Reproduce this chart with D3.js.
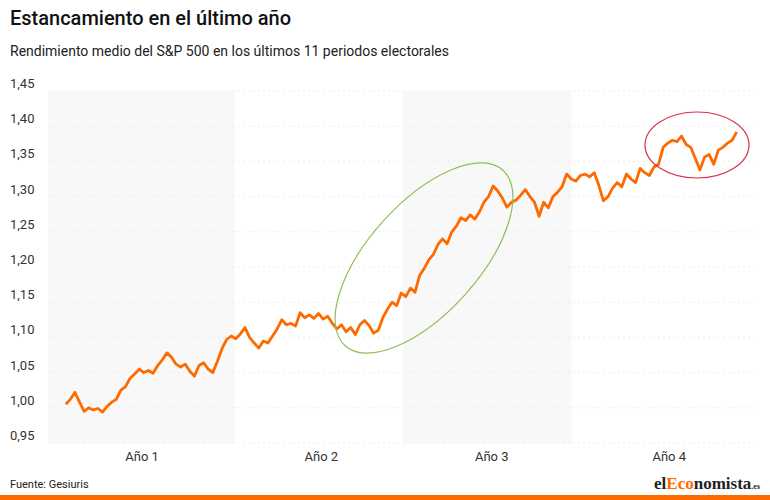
<!DOCTYPE html>
<html><head><meta charset="utf-8">
<script src="https://cdn.jsdelivr.net/npm/d3@7"></script>
<style>body{margin:0;background:#fff;font-family:Roboto,sans-serif}</style>
</head><body><svg id="c" width="770" height="500"></svg>
<script>
const yTicks=[0.95,1.00,1.05,1.10,1.15,1.20,1.25,1.30,1.35,1.40,1.45];
const years=["Año 1","Año 2","Año 3","Año 4"];
const yearBounds=[0,1.05,2.0,2.95,4];
const yearCenters=[0.53,1.54,2.5,3.5];
// average S&P 500 performance, sampled evenly from start (0.1) to end (3.88)
const values=[1.005,1.012,1.022,1.008,0.995,1.000,0.997,0.999,0.994,1.002,1.008,1.012,1.025,1.030,1.042,1.048,1.055,1.050,1.053,1.049,1.060,1.068,1.078,1.072,1.062,1.058,1.062,1.052,1.045,1.060,1.064,1.055,1.050,1.066,1.084,1.097,1.102,1.098,1.105,1.114,1.100,1.092,1.085,1.095,1.092,1.102,1.112,1.125,1.118,1.120,1.116,1.135,1.128,1.132,1.127,1.134,1.126,1.130,1.120,1.112,1.118,1.108,1.114,1.104,1.118,1.124,1.117,1.106,1.110,1.128,1.140,1.150,1.145,1.163,1.158,1.170,1.164,1.188,1.198,1.210,1.218,1.232,1.240,1.233,1.250,1.258,1.270,1.266,1.274,1.268,1.278,1.292,1.300,1.315,1.308,1.298,1.285,1.292,1.295,1.302,1.310,1.300,1.292,1.272,1.292,1.284,1.300,1.306,1.314,1.332,1.325,1.322,1.330,1.332,1.328,1.334,1.316,1.294,1.300,1.312,1.320,1.314,1.332,1.325,1.320,1.340,1.334,1.330,1.342,1.346,1.370,1.376,1.380,1.378,1.386,1.374,1.370,1.354,1.338,1.356,1.360,1.346,1.366,1.370,1.376,1.380,1.392];
const svg=d3.select("#c");
const x=d3.scaleLinear().domain([0,4]).range([48,758]);
const y=d3.scaleLinear().domain([0.95,1.45]).range([443,91]);
const xi=d3.scaleLinear().domain([0,values.length-1]).range([0.1,3.88]);
svg.selectAll("rect.band").data([0,2]).enter().append("rect")
 .attr("x",i=>x(yearBounds[i])).attr("width",i=>x(yearBounds[i+1])-x(yearBounds[i]))
 .attr("y",y(1.45)).attr("height",y(0.95)-y(1.45)).attr("fill","#f8f8f8");
svg.selectAll("line.g").data(yTicks).enter().append("line")
 .attr("x1",48).attr("x2",758).attr("y1",d=>y(d)).attr("y2",d=>y(d))
 .attr("stroke","#ececec").attr("stroke-dasharray","2,3");
svg.selectAll("text.yt").data(yTicks).enter().append("text")
 .attr("x",10).attr("y",d=>y(d)-3).attr("font-size",13).attr("fill","#333")
 .text(d=>d.toFixed(2).replace(".",","));
svg.selectAll("text.xt").data(years).enter().append("text")
 .attr("x",(d,i)=>x(yearCenters[i])).attr("y",461).attr("text-anchor","middle")
 .attr("font-size",13).attr("fill","#333").text(d=>d);
svg.append("path").datum(values).attr("fill","none").attr("stroke","#ff6a00").attr("stroke-width",2.8)
 .attr("stroke-linejoin","round")
 .attr("d",d3.line().x((d,i)=>x(xi(i))).y(d=>y(d)));
svg.append("ellipse").attr("cx",424).attr("cy",258).attr("rx",118).attr("ry",55)
 .attr("transform","rotate(-48 424 258)").attr("fill","none").attr("stroke","#8fbf5a").attr("stroke-width",1.2);
svg.append("ellipse").attr("cx",697).attr("cy",145).attr("rx",52).attr("ry",33)
 .attr("fill","none").attr("stroke","#d8304a").attr("stroke-width",1.2);
svg.append("text").attr("x",10).attr("y",25).attr("font-size",20).attr("font-weight",500).attr("fill","#111").text("Estancamiento en el último año");
svg.append("text").attr("x",10).attr("y",56).attr("font-size",14).attr("fill","#222").text("Rendimiento medio del S&P 500 en los últimos 11 periodos electorales");
svg.append("text").attr("x",10).attr("y",488).attr("font-size",11).attr("fill","#222").text("Fuente: Gesiuris");
const lg=svg.append("text").attr("x",760).attr("y",489).attr("text-anchor","end")
 .attr("font-family","Liberation Serif,serif").attr("font-weight","bold").attr("font-size",17).attr("fill","#222");
lg.append("tspan").text("el");
lg.append("tspan").attr("fill","#ff6a00").text("Eco");
lg.append("tspan").text("nomista");
lg.append("tspan").attr("font-size",8).text(".es");
svg.append("rect").attr("x",0).attr("y",495).attr("width",770).attr("height",5).attr("fill","#ff6a00");
</script></body></html>
